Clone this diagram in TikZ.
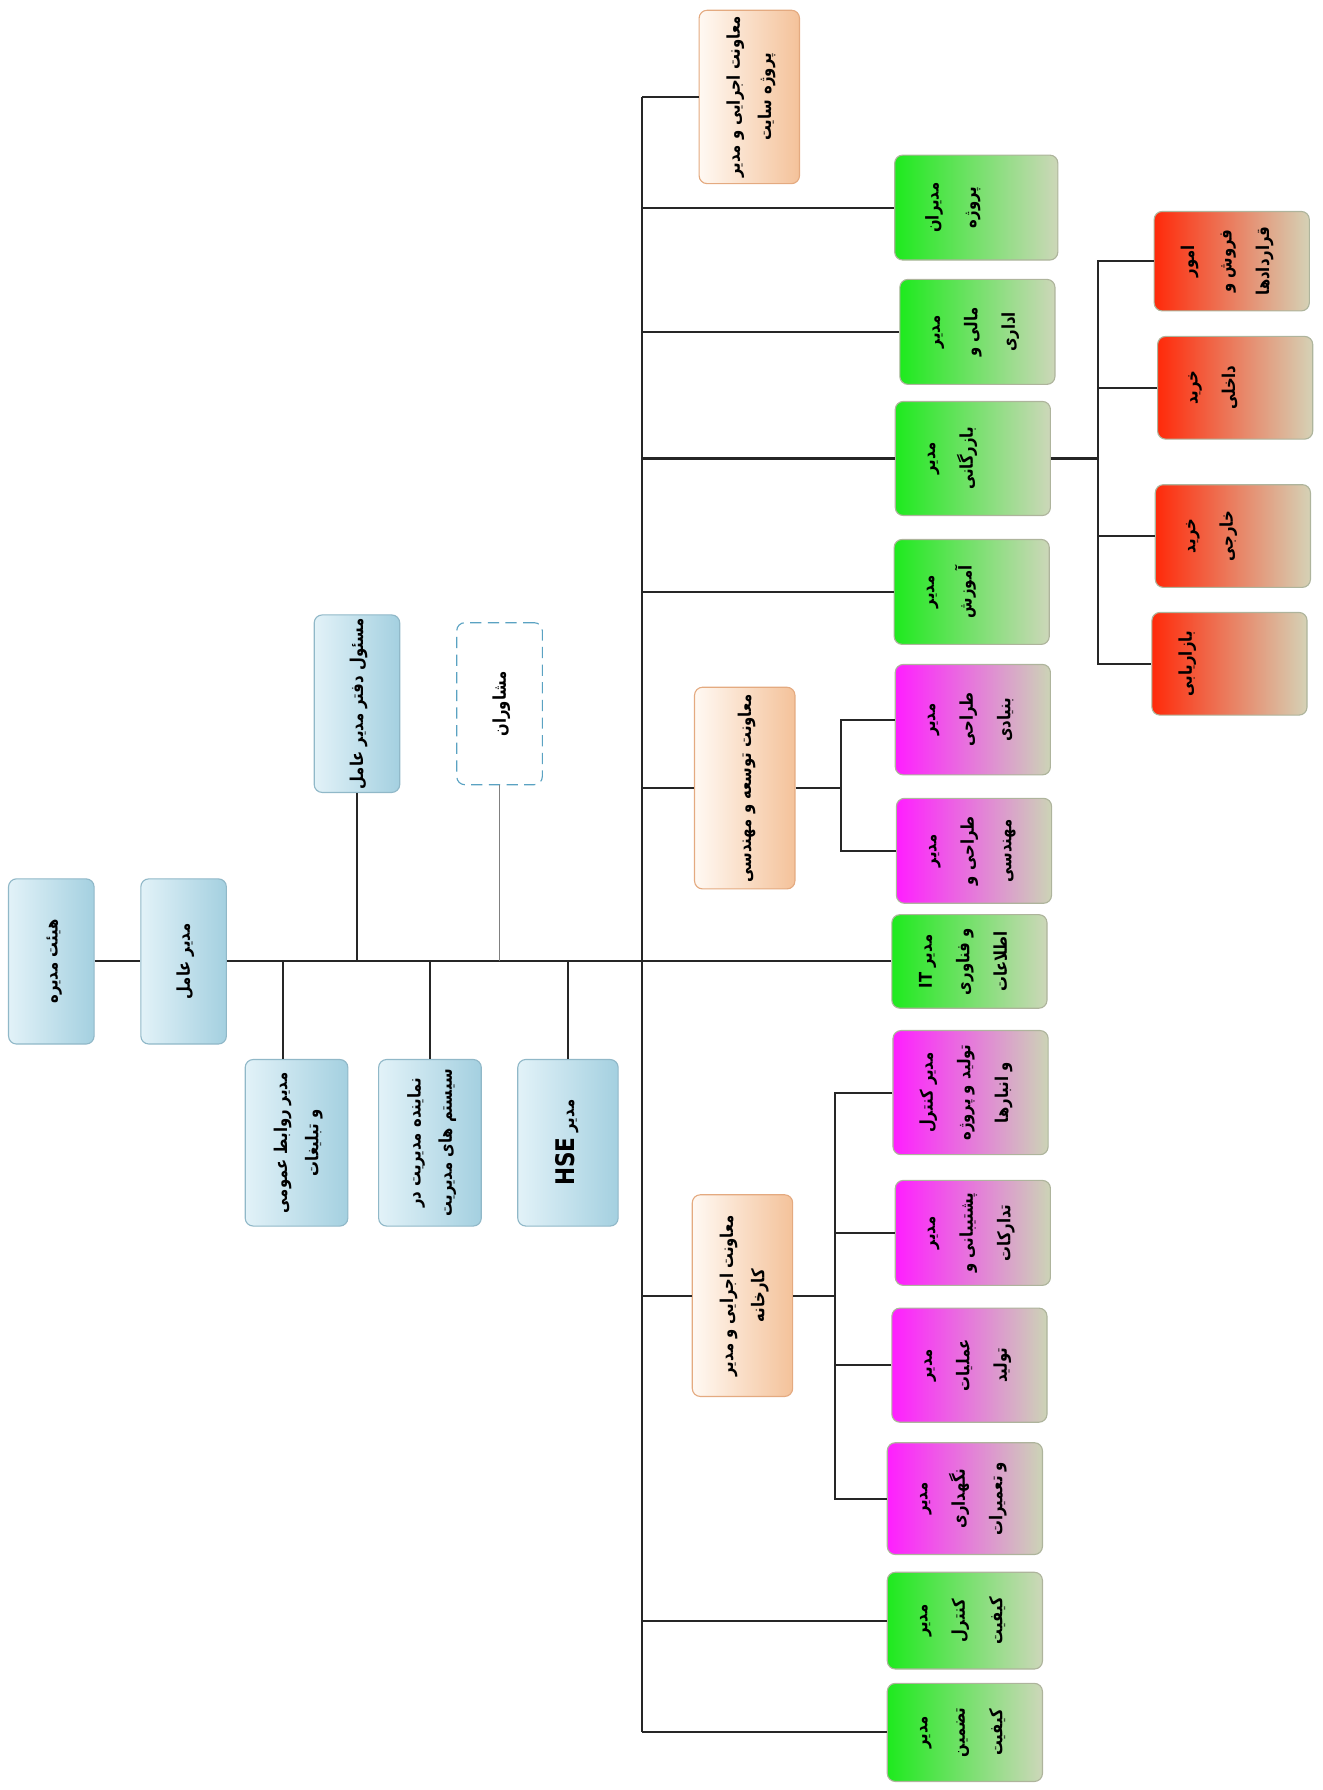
\documentclass[tikz,border=0pt]{standalone}
\usepackage{fontspec}
\usepackage{graphicx}
\newfontfamily\arabicfont[Script=Arabic, FakeStretch=0.84]{DejaVu Sans}
\TeXXeTstate=1

\definecolor{blueL}{HTML}{E2F2F8}
\definecolor{blueR}{HTML}{A4D0E0}
\definecolor{blueE}{HTML}{90B8C8}
\definecolor{peachL}{HTML}{FFF9F3}
\definecolor{peachR}{HTML}{F4C29A}
\definecolor{peachE}{HTML}{E4AA80}
\definecolor{greenL}{HTML}{1EEA1E}
\definecolor{greenR}{HTML}{CDD7B9}
\definecolor{pinkL}{HTML}{FF1EFF}
\definecolor{pinkR}{HTML}{CCD4B6}
\definecolor{redL}{HTML}{FF2A0A}
\definecolor{redR}{HTML}{D5D2B6}
\definecolor{unitE}{HTML}{AEB49C}
\definecolor{dashE}{HTML}{5AA2C2}

% rotated persian text, one row per line
\newcommand{\fa}[2][1.5]{\rotatebox{90}{\arabicfont\bfseries\fontsize{11}{13}\selectfont\renewcommand{\arraystretch}{#1}\begin{tabular}{@{}c@{}}#2\end{tabular}}}

\tikzset{
    box/.style={draw, rounded corners=5pt, line width=0.7pt, inner sep=2pt},
    chief/.style={box, draw=blueE, left color=blueL, right color=blueR, minimum width=1.875cm, minimum height=3.62cm},
    staff/.style={chief, minimum width=2.25cm, minimum height=3.65cm},
    advice/.style={box, draw=dashE, dash pattern=on 7pt off 4pt, fill=white, minimum width=1.875cm, minimum height=3.55cm},
    deputy/.style={box, draw=peachE, left color=peachL, right color=peachR, minimum width=2.2cm, minimum height=4.42cm},
    unit/.style={box, draw=unitE, minimum width=3.4cm, minimum height=2.3cm, text width=2.8cm, inner xsep=0.3cm, align=left},
    green unit/.style={unit, left color=greenL, right color=greenR},
    pink unit/.style={unit, left color=pinkL, right color=pinkR},
    red unit/.style={unit, left color=redL, right color=redR, minimum height=2.25cm},
    link/.style={draw=black!85, line width=1.3pt}
}

\begin{document}
\begin{tikzpicture}[x=0.025cm, y=-0.025cm]
    \useasboundingbox (0,0) rectangle (1160,1569.5);

    \node[chief] (board) at (45,843) {\fa{\beginR هیئت مدیره\endR}};
    \node[chief] (ceo) at (161,843) {\fa{\beginR مدیر عامل\endR}};
    \node[chief, minimum height=3.65cm] (office) at (313,617) {\fa{\beginR مسئول دفتر مدیر عامل\endR}};
    \node[advice] (advisors) at (438,617) {\fa{\beginR مشاوران\endR}};
    \node[staff] (pr) at (260,1002) {\fa{\beginR مدیر روابط عمومی\endR\\\beginR و تبلیغات\endR}};
    \node[staff] (rep) at (377,1002) {\fa{\beginR نماینده مدیریت در\endR\\\beginR سیستم های مدیریت\endR}};
    \node[staff, minimum width=2.2cm] (hse) at (498,1002) {\fa{\beginR مدیر {\fontsize{16}{13}\selectfont HSE}\endR}};

    \node[deputy, minimum height=3.8cm] (site) at (657,85) {\fa{\beginR معاونت اجرایی و مدیر\endR\\\beginR پروژه سایت\endR}};
    \node[deputy] (dev) at (653,691) {\fa{\beginR معاونت توسعه و مهندسی\endR}};
    \node[deputy] (plant) at (651,1136) {\fa{\beginR معاونت اجرایی و مدیر\endR\\\beginR کارخانه\endR}};

    \node[green unit, minimum width=3.575cm] (pm) at (856,182) {\fa[1.8]{\beginR مدیران\endR\\\beginR پروژه\endR}};
    \node[green unit] (fin) at (857,291) {\fa[1.8]{\beginR مدیر\endR\\\beginR مالی و\endR\\\beginR اداری\endR}};
    \node[green unit, minimum height=2.5cm] (com) at (853,402) {\fa[1.8]{\beginR مدیر\endR\\\beginR بازرگانی\endR}};
    \node[green unit] (edu) at (852,519) {\fa[1.8]{\beginR مدیر\endR\\\beginR آموزش\endR}};
    \node[pink unit, minimum height=2.42cm] (basic) at (853,631) {\fa[1.8]{\beginR مدیر\endR\\\beginR طراحی\endR\\\beginR بنیادی\endR}};
    \node[pink unit] (eng) at (854,746) {\fa[1.8]{\beginR مدیر\endR\\\beginR طراحی و\endR\\\beginR مهندسی\endR}};
    \node[green unit, minimum height=2.05cm] (it) at (850,843) {\fa[1.8]{\beginR مدیر IT\endR\\\beginR و فناوری\endR\\\beginR اطلاعات\endR}};
    \node[pink unit, minimum height=2.72cm] (pcon) at (851,958) {\fa[1.8]{\beginR مدیر کنترل\endR\\\beginR تولید و پروژه\endR\\\beginR و انبارها\endR}};
    \node[pink unit] (supp) at (853,1081) {\fa[1.8]{\beginR مدیر\endR\\\beginR پشتیبانی و\endR\\\beginR تدارکات\endR}};
    \node[pink unit, minimum height=2.5cm] (ops) at (850,1197) {\fa[1.8]{\beginR مدیر\endR\\\beginR عملیات\endR\\\beginR تولید\endR}};
    \node[pink unit, minimum height=2.45cm] (mnt) at (846,1314) {\fa[1.8]{\beginR مدیر\endR\\\beginR نگهداری\endR\\\beginR و تعمیرات\endR}};
    \node[green unit, minimum height=2.12cm] (qc) at (846,1421) {\fa[1.8]{\beginR مدیر\endR\\\beginR کنترل\endR\\\beginR کیفیت\endR}};
    \node[green unit, minimum height=2.15cm] (qa) at (846,1519) {\fa[1.8]{\beginR مدیر\endR\\\beginR تضمین\endR\\\beginR کیفیت\endR}};

    \node[red unit, minimum height=2.18cm] (sales) at (1080,229) {\fa[1.8]{\beginR امور\endR\\\beginR فروش و\endR\\\beginR قراردادها\endR}};
    \node[red unit] (inbuy) at (1083,340) {\fa[1.8]{\beginR خرید\endR\\\beginR داخلی\endR}};
    \node[red unit] (exbuy) at (1081,470) {\fa[1.8]{\beginR خرید\endR\\\beginR خارجی\endR}};
    \node[red unit] (mkt) at (1078,582) {\fa[1.8]{\beginR بازاریابی\endR}};

    \coordinate (spineTop) at (563,85);
    \coordinate (spineBot) at (563,1519);
    \coordinate (devBus) at (737,0);
    \coordinate (plantBus) at (732,0);
    \coordinate (comBus) at (963,0);

    \draw[link] (board) -- (ceo);
    \draw[link] (ceo.east) -- (ceo.east -| it.west);
    \draw[link] (spineTop) -- (spineBot);
    \draw[link] ([xshift=-0.3cm]pr.north) -- ([xshift=-0.3cm]pr.north |- ceo.east);
    \foreach \n in {rep,hse}
        \draw[link] (\n.north) -- (\n.north |- ceo.east);
    \draw[link] (office.south) -- (office.south |- ceo.east);
    \draw[draw=gray, line width=0.7pt] (advisors.south) -- (advisors.south |- ceo.east);

    \foreach \n in {site,pm,fin,com,edu,dev,plant,qc,qa}
        \draw[link] (\n.west -| spineTop) -- (\n.west);

    \draw[link] (dev.east) -- (dev.east -| devBus);
    \draw[link] (basic.west) -| (devBus |- eng.west) -- (eng.west);

    \draw[link] (plant.east) -- (plant.east -| plantBus);
    \draw[link] (pcon.west) -| (plantBus |- mnt.west) -- (mnt.west);
    \foreach \n in {supp,ops}
        \draw[link] (\n.west) -- (\n.west -| plantBus);

    \draw[link] (com.east) -- (com.east -| comBus);
    \draw[link] (sales.west) -| (comBus |- mkt.west) -- (mkt.west);
    \foreach \n in {inbuy,exbuy}
        \draw[link] (\n.west) -- (\n.west -| comBus);
\end{tikzpicture}
\end{document}
